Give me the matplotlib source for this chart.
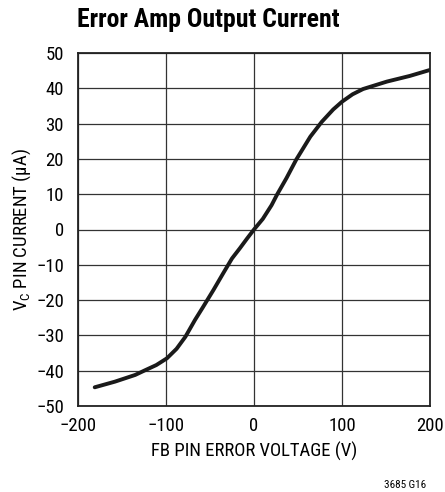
import matplotlib
matplotlib.use("Agg")
import matplotlib.pyplot as plt
from matplotlib import font_manager

# curve (FB error voltage in V, VC pin current in uA)
fb_voltage = [-181, -158, -135, -124, -111, -99, -88, -78, -67, -58, -46, -35,
              -25, -16, -8, 0, 10, 20, 26, 37, 48, 64, 77, 90, 100, 112, 124,
              151, 177, 200]
vc_current = [-44.7, -43.1, -41.2, -39.9, -38.4, -36.5, -33.8, -30.4, -25.6, -22.0, -17.1, -12.4,
              -8.2, -5.3, -2.6, 0.0, 3.0, 6.9, 9.8, 14.6, 19.8, 26.3, 30.5, 34.0, 36.2, 38.3, 39.8,
              41.9, 43.5, 45.2]

xticks = [-200, -100, 0, 100, 200]
yticks = list(range(-50, 51, 10))

names = {f.name for f in font_manager.fontManager.ttflist}
fam = "Liberation Sans"
for cand in ["Roboto Condensed", "Archivo Narrow", "PT Sans Narrow", "Liberation Sans Narrow",
             "Arimo", "Liberation Sans"]:
    if cand in names:
        fam = cand
        break
plt.rcParams['font.family'] = [fam, 'DejaVu Sans']
plt.rcParams['mathtext.fontset'] = 'custom'
plt.rcParams['mathtext.rm'] = fam
plt.rcParams['mathtext.it'] = fam

fig = plt.figure(figsize=(4.45, 4.92), dpi=100)
ax = fig.add_axes([78 / 445, 1 - 406 / 492, 352 / 445, 353 / 492])

ax.plot(fb_voltage, vc_current, color="#1a1a1a", lw=2.8,
        solid_capstyle="round", solid_joinstyle="round")

ax.set_xlim(-200, 200)
ax.set_ylim(-50, 50)
ax.set_xticks(xticks)
ax.set_yticks(yticks)
ax.set_xticklabels([str(v).replace("-", "\u2212") for v in xticks])
ax.set_yticklabels([str(v).replace("-", "\u2212") for v in yticks])
ax.tick_params(length=0, labelsize=13.5)
ax.tick_params(axis="x", pad=8)
ax.tick_params(axis="y", pad=10)
ax.grid(True, color="#333333", lw=0.9)
for s in ax.spines.values():
    s.set_linewidth(1.3)
    s.set_color("#222222")

ax.set_xlabel("FB PIN ERROR VOLTAGE (V)", fontsize=13.5, labelpad=5)
ax.set_ylabel("V$_\\mathregular{C}$ PIN CURRENT (\u00b5A)", fontsize=13.5, labelpad=2)

fig.text(77 / 445, 1 - 20 / 492, "Error Amp Output Current", fontsize=18.5,
         fontweight="bold", va="center", ha="left")
fig.text(426 / 445, 1 - 485 / 492, "3685 G16", fontsize=8, ha="right", va="center")

fig.savefig("out.png", dpi=100)
